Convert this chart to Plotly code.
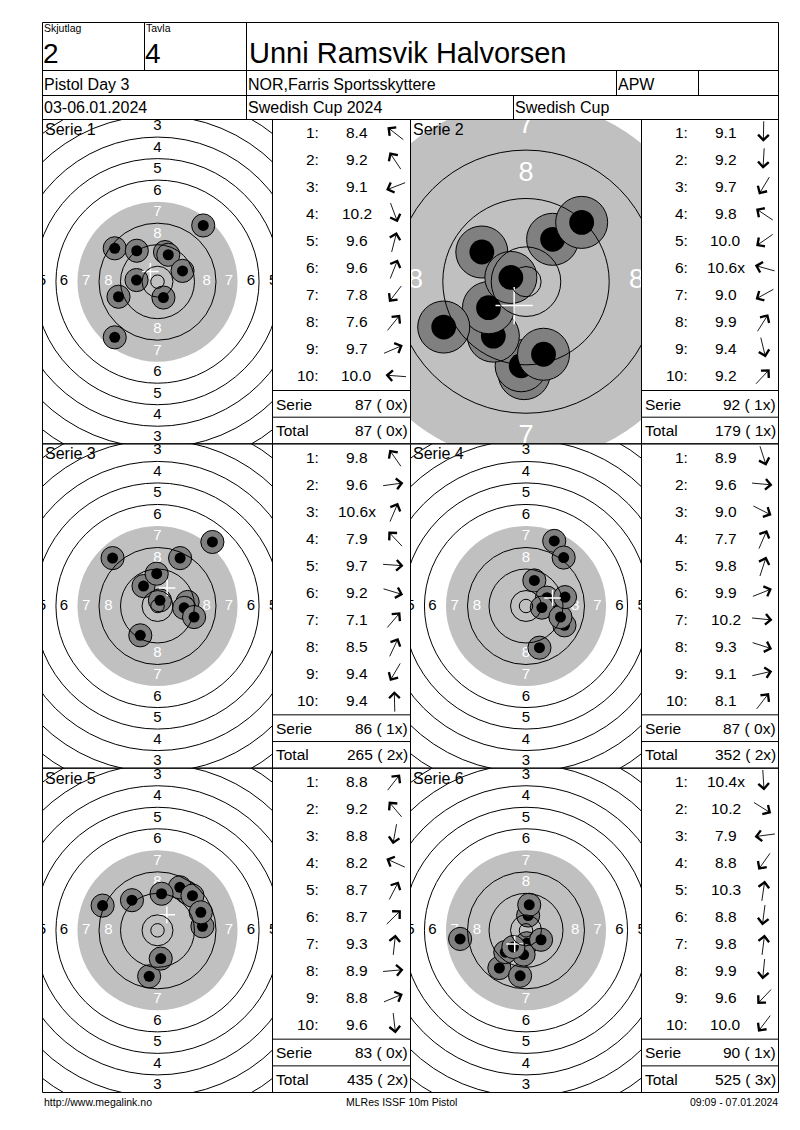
import math
import plotly.graph_objects as go

# kort-huvud
skjutlag = "2"
tavla = "4"
skytt = "Unni Ramsvik Halvorsen"
tavling = "Pistol Day 3"
klubb = "NOR,Farris Sportsskyttere"
klass = "APW"
datum = "03-06.01.2024"
cup_namn = "Swedish Cup 2024"
cup = "Swedish Cup"
sidfot = ["http://www.megalink.no", "MLRes ISSF 10m Pistol", "09:09 - 07.01.2024"]

serie_namn = ["Serie 1", "Serie 2", "Serie 3", "Serie 4", "Serie 5", "Serie 6"]

# skott: decimalvarde och traffpunkt i mm fran centrum (x hoger, y upp)
serie1_val = [8.4, 9.2, 9.1, 10.2, 9.6, 9.6, 7.8, 7.6, 9.7, 10.0]
serie1_x = [-15.9, -7.7, -14.5, 2.2, 2.8, 4.0, -15.9, 17.0, 9.3, -7.8]
serie1_y = [12.4, 11.5, -5.6, -5.9, 11.0, 10.0, -20.7, 20.9, 4.0, 0.6]
serie1_inner = []

serie2_val = [9.1, 9.2, 9.7, 9.8, 10.0, 10.6, 9.0, 9.9, 9.4, 9.2]
serie2_x = [-0.3, -0.8, -5.4, -7.3, -6.2, -2.5, -13.6, 4.4, 2.9, 9.2]
serie2_y = [-15.2, -13.9, -9.0, 4.9, -4.3, 0.7, -7.5, 7.0, -12.0, 9.8]
serie2_inner = [6]

serie3_val = [9.8, 9.6, 10.6, 7.9, 9.7, 9.2, 7.1, 8.5, 9.4, 9.4]
serie3_x = [-5.2, 11.2, 0.9, -16.7, 9.9, 13.6, 20.4, 8.4, -6.4, -0.3]
serie3_y = [7.4, 1.5, 2.1, 17.8, -0.7, -4.1, 23.8, 17.8, -10.9, 12.0]
serie3_inner = [3]

serie4_val = [8.9, 9.6, 9.0, 7.7, 9.8, 9.9, 10.2, 9.3, 9.1, 8.1]
serie4_x = [5.0, 11.0, 14.3, 10.5, 3.1, 7.8, 5.9, 12.8, 14.5, 14.0]
serie4_y = [-15.5, -1.0, -7.2, 24.2, 9.5, 3.1, -0.6, -4.1, 3.3, 18.0]
serie4_inner = []

serie5_val = [8.8, 9.2, 8.8, 8.2, 8.7, 8.7, 9.3, 8.9, 8.8, 9.6]
serie5_x = [11.0, -9.5, -3.1, -20.4, 8.3, 13.0, 1.5, 16.7, 16.1, 1.2]
serie5_y = [14.0, 11.2, -17.1, 9.2, 16.0, 12.9, 13.6, 1.5, 6.7, -10.5]
serie5_inner = []

serie6_val = [10.4, 10.2, 7.9, 8.8, 10.3, 8.8, 9.8, 9.9, 9.6, 10.0]
serie6_x = [0.3, 5.6, -24.5, -9.9, 0.8, -2.2, 1.2, -0.9, -7.7, -4.7]
serie6_y = [-4.8, -3.5, -3.2, -14.0, 5.5, -16.9, 9.5, -9.0, -8.1, -6.2]
serie6_inner = [1]

serier = [
    (serie1_val, serie1_x, serie1_y, serie1_inner),
    (serie2_val, serie2_x, serie2_y, serie2_inner),
    (serie3_val, serie3_x, serie3_y, serie3_inner),
    (serie4_val, serie4_x, serie4_y, serie4_inner),
    (serie5_val, serie5_x, serie5_y, serie5_inner),
    (serie6_val, serie6_x, serie6_y, serie6_inner),
]

# visning: pixlar per mm och storlek pa ringsiffror
zoom = [2.69, 6.05, 2.69, 2.69, 2.69, 2.69]
siffer_storlek = [15, 27, 15, 15, 15, 15]

FONT = "Liberation Sans, Arial, sans-serif"
W, H = 800, 1130
LEFT, RIGHT, TOP, BOTTOM = 42.5, 778.5, 22.5, 1092.5
ROW1, ROW2, ROW3 = 70.5, 95.5, 119.5
PANEL_H = (BOTTOM - ROW3) / 3
KOLUMNER = [(42.5, 272.5, 410.5), (410.5, 641.5, 778.5)]

# tavla 10m pistol, ringradier i mm
INRE_TIA = 2.5
RING_R = [5.75 + 8 * k for k in range(10)]  # 10-ring ... 1-ring
SVART_R = 29.75
SKOTT_D = 8.6
KARNA_D = 4.1

shapes = []
annotations = []


def px(v):
    return v / W


def py(v):
    return 1 - v / H


def linje(x0, y0, x1, y1):
    shapes.append(dict(type="line", xref="paper", yref="paper",
                       x0=px(x0), y0=py(y0), x1=px(x1), y1=py(y1),
                       line=dict(color="black", width=1), layer="above"))


def text(x, y, s, size, xanchor="left", color="black"):
    annotations.append(dict(xref="paper", yref="paper", x=px(x), y=py(y), text=s,
                            showarrow=False, xanchor=xanchor, yanchor="middle",
                            borderpad=0,
                            font=dict(size=size, color=color, family=FONT)))


fig = go.Figure()

# ram och huvud
linje(LEFT, TOP, RIGHT, TOP)
linje(LEFT, BOTTOM, RIGHT, BOTTOM)
linje(LEFT, TOP, LEFT, BOTTOM)
linje(RIGHT, TOP, RIGHT, BOTTOM)
linje(LEFT, ROW1, RIGHT, ROW1)
linje(LEFT, ROW2, RIGHT, ROW2)
linje(LEFT, ROW3, RIGHT, ROW3)
linje(144.5, TOP, 144.5, ROW1)
linje(246.5, TOP, 246.5, ROW3)
linje(616.5, ROW1, 616.5, ROW2)
linje(698.5, ROW1, 698.5, ROW2)
linje(513.5, ROW2, 513.5, ROW3)

text(43, 28, "Skjutlag", 10.5)
text(145, 28, "Tavla", 10.5)
text(42, 53, skjutlag, 28)
text(144, 53, tavla, 28)
text(248, 53, skytt, 29)
text(43, 84, tavling, 16)
text(247, 84, klubb, 16)
text(617, 84, klass, 16)
text(43, 108, datum, 16)
text(247, 108, cup_namn, 16)
text(514, 108, cup, 16)

text(LEFT, 1102, sidfot[0], 10.5)
text(402, 1102, sidfot[1], 10.5, xanchor="center")
text(RIGHT, 1102, sidfot[2], 10.5, xanchor="right")

axes = {}
total = 0
total_x = 0
for i, (val, xs, ys, inner) in enumerate(serier):
    rad, kol = divmod(i, 2)
    T = ROW3 + rad * PANEL_H
    tl, tb, tr = KOLUMNER[kol]
    s = zoom[i]
    sfx = "" if i == 0 else str(i + 1)
    xr, yr = "x" + sfx, "y" + sfx

    # panelgranser
    if rad > 0:
        linje(LEFT, T, RIGHT, T)
    linje(tb, ROW3, tb, BOTTOM)
    if kol == 0:
        linje(tr, ROW3, tr, BOTTOM)
    linje(tb, T + 271, tr, T + 271)
    linje(tb, T + 297.7, tr, T + 297.7)

    hw = (tb - tl) / 2 / s
    hh = PANEL_H / 2 / s
    axes["xaxis" + sfx] = dict(domain=[px(tl), px(tb)], range=[-hw, hw], visible=False,
                               fixedrange=True, anchor=yr)
    axes["yaxis" + sfx] = dict(domain=[py(T + PANEL_H), py(T)], range=[-hh, hh], visible=False,
                               fixedrange=True, anchor=xr)

    # svart spegel (gra) och ringar
    shapes.append(dict(type="circle", xref=xr, yref=yr, x0=-SVART_R, x1=SVART_R,
                       y0=-SVART_R, y1=SVART_R, fillcolor="#c0c0c0",
                       line=dict(width=0), layer="below"))
    for r in [INRE_TIA] + RING_R:
        if r == SVART_R:
            continue
        shapes.append(dict(type="circle", xref=xr, yref=yr, x0=-r, x1=r, y0=-r, y1=r,
                           line=dict(color="black", width=1), layer="above"))

    # ringsiffror
    lx, ly, lt, lc = [], [], [], []
    for k in range(1, 9):
        r = RING_R[10 - k] - 4
        for dx, dy in [(0, 1), (0, -1), (1.03, 0), (-1.03, 0)]:
            lx.append(dx * r)
            ly.append(dy * r)
            lt.append(str(k))
            lc.append("white" if k >= 7 else "black")
    fig.add_trace(go.Scatter(x=lx, y=ly, text=lt, mode="text", xaxis=xr, yaxis=yr,
                             textfont=dict(size=siffer_storlek[i], color=lc, family=FONT),
                             hoverinfo="skip", showlegend=False))

    # skott, i skjutordning
    sx, sy, sz, sc, sw = [], [], [], [], []
    for x, y in zip(xs, ys):
        sx += [x, x]
        sy += [y, y]
        sz += [SKOTT_D * s, KARNA_D * s]
        sc += ["#808080", "black"]
        sw += [1, 0]
    fig.add_trace(go.Scatter(x=sx, y=sy, mode="markers", xaxis=xr, yaxis=yr,
                             marker=dict(size=sz, color=sc, opacity=1,
                                         line=dict(color="black", width=sw)),
                             hoverinfo="skip", showlegend=False))

    # traffbildens medelpunkt
    mx = sum(xs) / len(xs)
    my = sum(ys) / len(ys)
    fig.add_trace(go.Scatter(x=[mx], y=[my], mode="markers", xaxis=xr, yaxis=yr,
                             marker=dict(symbol="cross-thin", size=4.4 * s,
                                         line=dict(color="white", width=1.5)),
                             hoverinfo="skip", showlegend=False))

    text(tl + 1, T + 10, serie_namn[i], 16)

    # skottlista
    for j, (v, x, y) in enumerate(zip(val, xs, ys)):
        cy = T + 13.3 + 27 * j
        text(tb + 47, cy, f"{j + 1}:", 15.5, xanchor="right")
        etikett = f"{v:.1f}" + ("x" if (j + 1) in inner else "")
        text(tb + 84, cy, etikett, 15.5, xanchor="center")
        ang = math.atan2(y, x)
        ux, uy = math.cos(ang), math.sin(ang)
        L = 22
        hx = tb + 122 + 9 * ux
        hy = cy - 9 * uy
        annotations.append(dict(xref="paper", yref="paper", x=px(hx), y=py(hy), text="",
                                showarrow=True, ax=-L * ux, ay=L * uy, arrowhead=4,
                                arrowsize=2.3, arrowwidth=0.9, arrowcolor="black",
                                standoff=0, startstandoff=0))

    summa = sum(int(v + 1e-9) for v in val)
    nx = len(inner)
    total += summa
    total_x += nx
    text(tb + 2, T + 284.5, "Serie", 15.5)
    text(tr - 2, T + 284.5, f"{summa} ({nx:2d}x)", 15.5, xanchor="right")
    text(tb + 2, T + 311, "Total", 15.5)
    text(tr - 2, T + 311, f"{total} ({total_x:2d}x)", 15.5, xanchor="right")

fig.update_layout(
    width=W, height=H,
    margin=dict(l=0, r=0, t=0, b=0),
    paper_bgcolor="white", plot_bgcolor="white",
    showlegend=False, hovermode=False,
    shapes=shapes, annotations=annotations,
    font=dict(family=FONT),
    **axes
)

fig.write_html("out.html", config={"displayModeBar": False},
               post_script="document.body.style.margin='0';")
